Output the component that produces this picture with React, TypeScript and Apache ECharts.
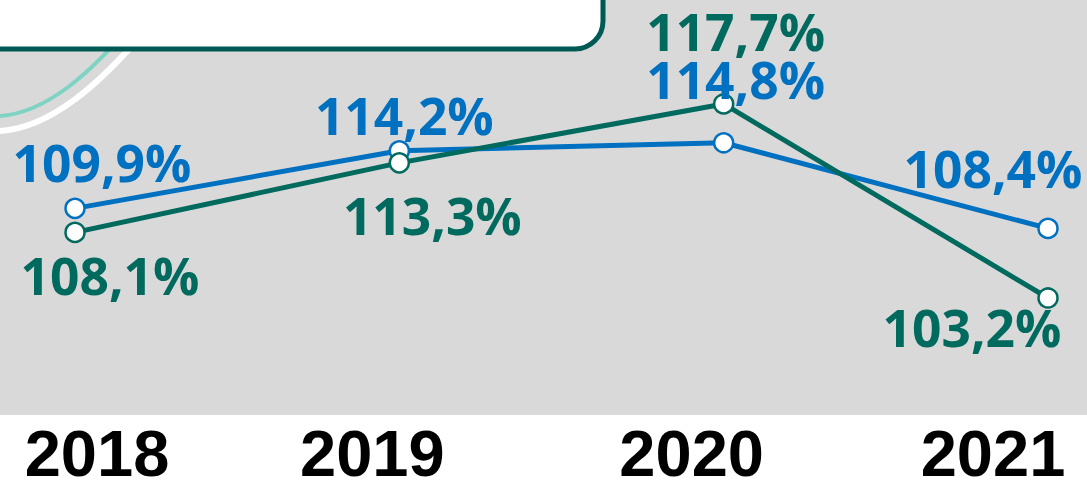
import React, { useEffect, useRef } from "react";
import * as echarts from "echarts";

const years = ["2018", "2019", "2020", "2021"];
const blueValues = [109.9, 114.2, 114.8, 108.4];
const tealValues = [108.1, 113.3, 117.7, 103.2];

// label placement (pixels relative to point)
const blueOffsets = [[27, -46], [5, -36], [12, -64], [-55, -60]];
const tealOffsets = [[35, 43], [33, 52], [12, -73], [-76, 29]];
const yearPads = [[0, 0, 0, 44], [0, 54, 0, 0], [0, 64, 0, 0], [0, 110, 0, 0]];

const BLUE = "#0070C0";
const TEAL = "#006A5E";
const fmt = (v: number) => v.toFixed(1).replace(".", ",") + "%";

export default function App() {
  const ref = useRef<HTMLDivElement>(null);
  useEffect(() => {
    document.body.style.margin = "0";
    const chart = echarts.init(ref.current!, undefined, { renderer: "svg" });
    const mkSeries = (name: string, vals: number[], color: string, offs: number[][]) => ({
      name,
      type: "line",
      data: vals.map((v, i) => ({
        value: v,
        label: { offset: offs[i] },
      })),
      symbol: "circle",
      symbolSize: 19,
      lineStyle: { color, width: 5 },
      itemStyle: { color: "#fff", borderColor: color, borderWidth: 2.5 },
      label: {
        show: true,
        position: "inside",
        formatter: (p: any) => fmt(p.value),
        color,
        fontFamily: "Open Sans",
        fontWeight: "bold",
        fontSize: 51.5,
        verticalAlign: "middle",
        align: "center",
      },
      emphasis: { disabled: true },
    });
    const rich: any = {};
    years.forEach((y, i) => {
      rich["y" + i] = {
        fontFamily: "Liberation Sans",
        fontWeight: "bold",
        fontSize: 65,
        color: "#000",
        padding: yearPads[i],
      };
    });
    chart.setOption({
      animation: false,
      backgroundColor: "#fff",
      grid: { left: 75, right: 39, top: 6.3, bottom: 83.3 },
      xAxis: {
        type: "category",
        data: years,
        boundaryGap: false,
        axisLine: { show: false },
        axisTick: { show: false },
        axisLabel: {
          margin: 46,
          verticalAlign: "middle",
          interval: 0,
          formatter: (val: string, idx: number) => `{y${idx}|${val}}`,
          rich,
        },
      },
      yAxis: { type: "value", min: 95, max: 125, show: false, splitLine: { show: false } },
      graphic: [
        { type: "rect", z: -10, shape: { x: 0, y: 0, width: 1087, height: 415 }, style: { fill: "#D9D9D9" } },
        {
          type: "bezierCurve",
          z: -5,
          shape: { x1: 0, y1: 131, cpx1: 50, cpy1: 128, cpx2: 100, cpy2: 85, x2: 150, y2: 25 },
          style: { stroke: "#ffffff", lineWidth: 6, fill: "none" },
        },
        {
          type: "bezierCurve",
          z: -5,
          shape: { x1: 0, y1: 116, cpx1: 45, cpy1: 113, cpx2: 90, cpy2: 75, x2: 135, y2: 20 },
          style: { stroke: "#7FD3C3", lineWidth: 4, fill: "none" },
        },
        {
          type: "rect",
          z: 100,
          shape: { x: -30, y: -60, width: 633, height: 109, r: 28 },
          style: { fill: "#ffffff", stroke: "#005A54", lineWidth: 5 },
        },
      ],
      series: [mkSeries("blue", blueValues, BLUE, blueOffsets), mkSeries("teal", tealValues, TEAL, tealOffsets)],
    });
    return () => chart.dispose();
  }, []);
  return <div ref={ref} style={{ width: 1087, height: 491 }} />;
}
